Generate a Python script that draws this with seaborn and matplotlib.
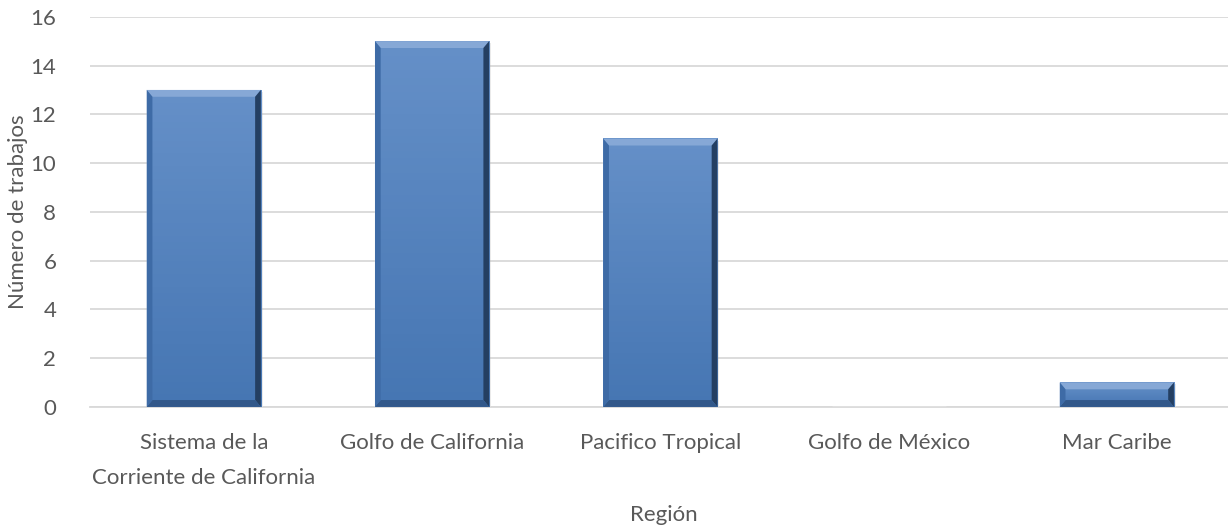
import numpy as np
import pandas as pd
import seaborn as sns
import matplotlib.pyplot as plt
from matplotlib.patches import Polygon
from matplotlib.colors import LinearSegmentedColormap

regiones = ['Sistema de la\nCorriente de California', 'Golfo de California',
            'Pacifico Tropical', 'Golfo de México', 'Mar Caribe']
trabajos = [13, 15, 11, 0, 1]
yticks = [0, 2, 4, 6, 8, 10, 12, 14, 16]

df = pd.DataFrame({'region': regiones, 'trabajos': trabajos})

sns.set_style('white')
plt.rcParams['font.family'] = ['Lato', 'DejaVu Sans']

fig = plt.figure(figsize=(12.28, 5.25), dpi=100)
ax = fig.add_axes([0.073, 0.225, 0.935, 0.743])

sns.barplot(data=df, x='region', y='trabajos', color='#4a7dbb', saturation=1,
            width=0.5, ax=ax, zorder=3)

body = LinearSegmentedColormap.from_list('b', ['#4676b3', '#6590c8'])

# bevel look on each bar
for p in ax.patches:
    x0, y0 = p.get_x(), p.get_y()
    w, h = p.get_width(), p.get_height()
    if h <= 0:
        continue
    x1, y1 = x0 + w, y0 + h
    bx = w * 0.05
    by = min(0.28, h * 0.3)
    # soft shadow
    ax.add_patch(plt.Rectangle((x0 + w * 0.015, y0 - 0.08), w, h, color='#000000',
                               alpha=0.10, zorder=2, lw=0))
    grad = np.linspace(0, 1, 50).reshape(-1, 1)
    ax.imshow(grad, extent=[x0, x1, y0, y1], origin='lower', aspect='auto',
              cmap=body, zorder=3.5)
    ax.add_patch(Polygon([(x0, y1), (x1, y1), (x1 - bx, y1 - by), (x0 + bx, y1 - by)],
                         color='#86a8d6', lw=0, zorder=4))
    ax.add_patch(Polygon([(x1, y1), (x1, y0), (x1 - bx, y0 + by), (x1 - bx, y1 - by)],
                         color='#243f62', lw=0, zorder=4))
    ax.add_patch(Polygon([(x0, y0), (x1, y0), (x1 - bx, y0 + by), (x0 + bx, y0 + by)],
                         color='#32588a', lw=0, zorder=4))
    ax.add_patch(Polygon([(x0, y0), (x0, y1), (x0 + bx, y1 - by), (x0 + bx, y0 + by)],
                         color='#3e6ba6', lw=0, zorder=4))

ax.set_xlim(-0.5, 4.53)
ax.set_ylim(0, 16)
ax.set_yticks(yticks)
ax.yaxis.grid(True, color='#d9d9d9', lw=1.3, zorder=0)
ax.set_axisbelow(True)
for s in ['top', 'right', 'left']:
    ax.spines[s].set_visible(False)
ax.spines['bottom'].set_color('#d9d9d9')
ax.spines['bottom'].set_linewidth(1.3)
ax.tick_params(axis='both', length=0, labelsize=16, labelcolor='#595959')
ax.tick_params(axis='x', pad=19)
ax.tick_params(axis='y', pad=24)
for lbl in ax.get_xticklabels():
    lbl.set_linespacing(1.95)
ax.set_xlabel('Región', fontsize=16, color='#595959', labelpad=12)
ax.set_ylabel('Número de trabajos', fontsize=16, color='#595959', labelpad=2)

fig.savefig('out.png', dpi=100, facecolor='white')
